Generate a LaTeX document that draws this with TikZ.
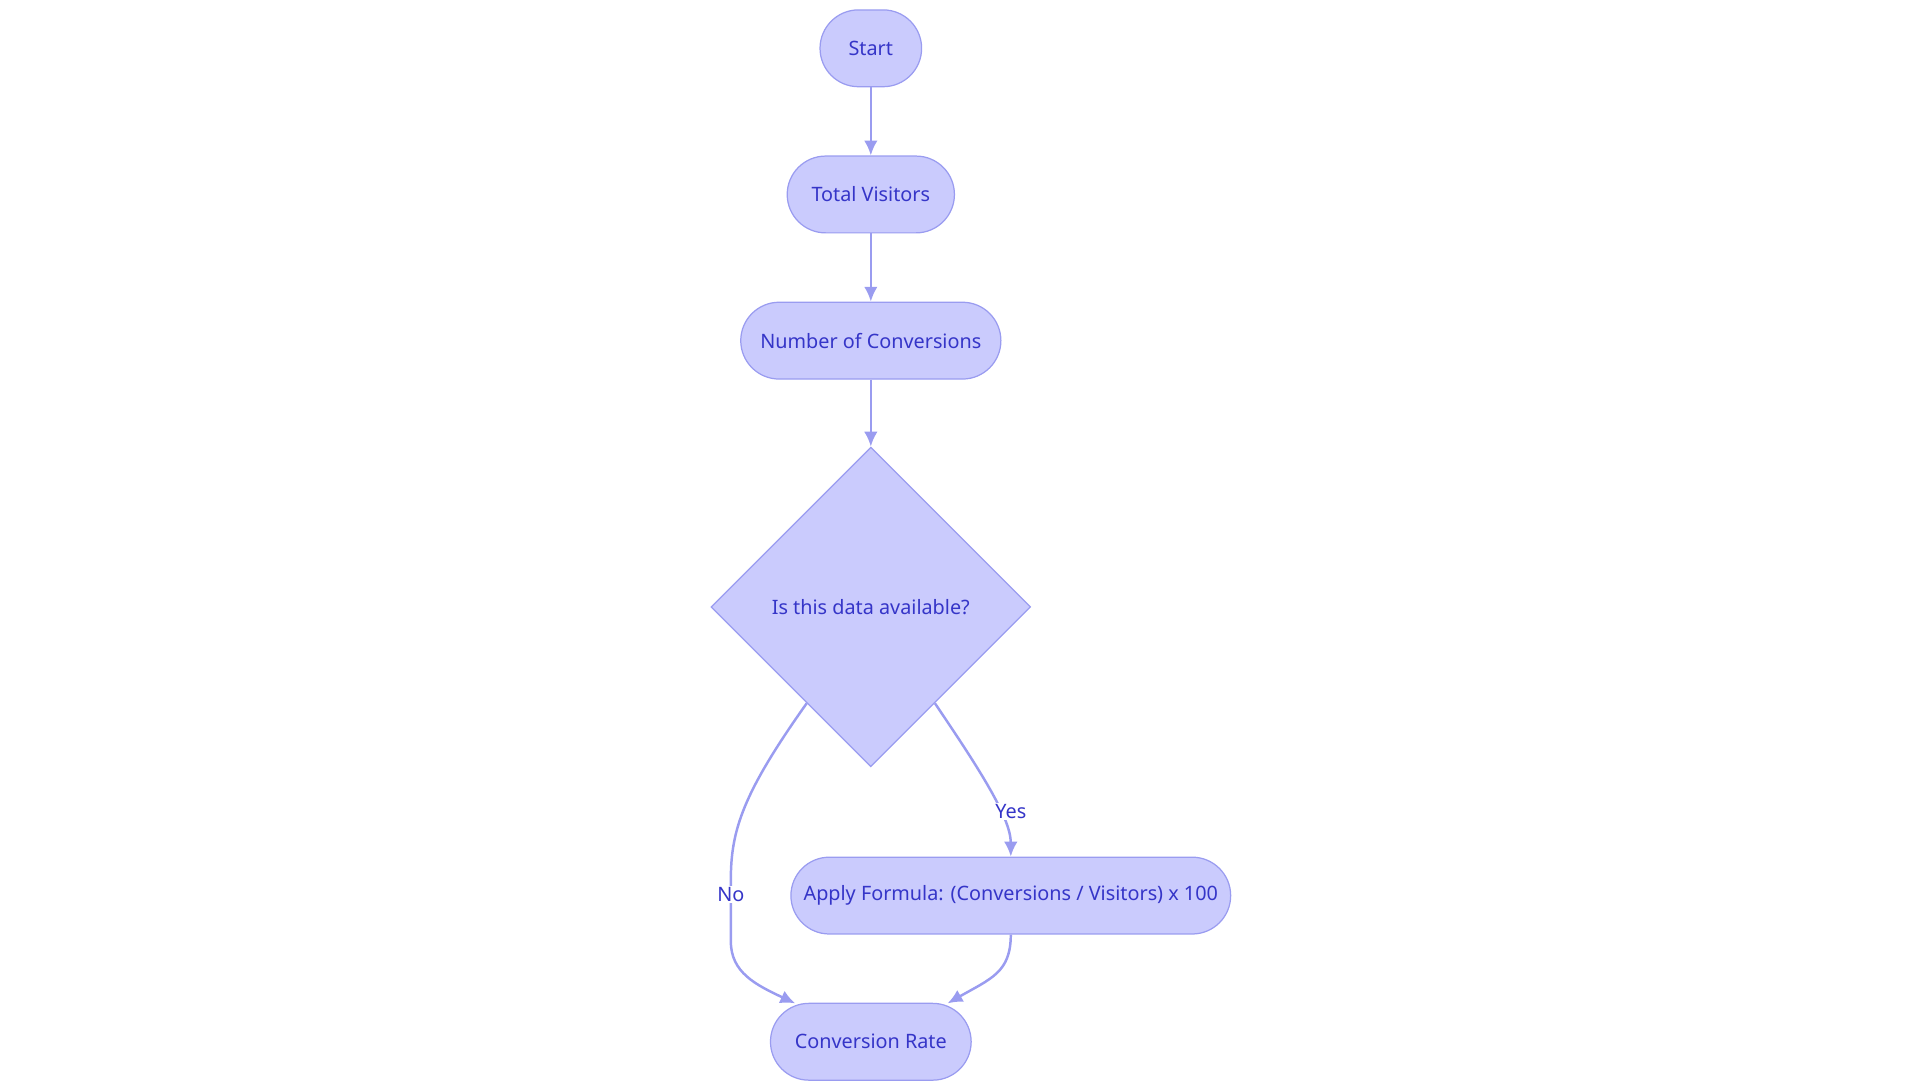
\documentclass[tikz,border=0pt]{standalone}
\usepackage{fontspec}
\setmainfont{Noto Sans}
\usetikzlibrary{shapes.geometric,arrows.meta}
\definecolor{boxfill}{HTML}{CACBFD}
\definecolor{boxline}{HTML}{9A9CF0}
\definecolor{boxtext}{HTML}{3535C8}
\begin{document}
\begin{tikzpicture}[x=1pt,y=-1pt,font=\fontsize{16}{19}\selectfont\color{boxtext}]
    \tikzstyle{stage} = [rectangle, rounded corners=31pt, draw=boxline, fill=boxfill, line width=1pt, minimum height=62pt, inner sep=0pt]
    \tikzstyle{check} = [diamond, draw=boxline, fill=boxfill, line width=1pt, minimum width=258pt, minimum height=258pt, inner sep=0pt]
    \tikzstyle{flow} = [draw=boxline, line width=2pt, -{Latex[length=12pt,width=11pt]}]
    \tikzstyle{tag} = [fill=white, inner sep=1pt]

    \useasboundingbox (0,0) rectangle (1550,874);

    % Stages
    \node[stage, minimum width=82pt] (start) at (703,39) {Start};
    \node[stage, minimum width=135pt] (visitors) at (703,157) {Total Visitors};
    \node[stage, minimum width=210pt] (conv) at (703,275) {Number of Conversions};
    \node[check] (avail) at (703,490) {Is this data available?};
    \node[stage, minimum width=355pt] (formula) at (816,723) {Apply Formula: (Conversions / Visitors) x 100};
    \node[stage, minimum width=162pt] (rate) at (703,841) {Conversion Rate};
    \coordinate (noin) at (642,810);
    \coordinate (yesin) at (765,810);

    \draw[flow] (start) -- (visitors);
    \draw[flow] (visitors) -- (conv);
    \draw[flow] (conv) -- (avail);
    \draw[flow] (avail.south west) ++(13,13) .. controls (600,640) and (590,670) .. (590,710)
        -- (590,760) .. controls (590,785) and (610,795) .. (noin);
    \node[tag] (no) at (590,722) {No};
    \draw[flow] (avail.south east) ++(-13,13) .. controls (790,620) and (816,660) .. (formula.north);
    \node[tag] (yes) at (816,655) {Yes};
    \draw[flow] (formula.south) .. controls (816,785) and (800,790) .. (yesin);
\end{tikzpicture}
\end{document}
